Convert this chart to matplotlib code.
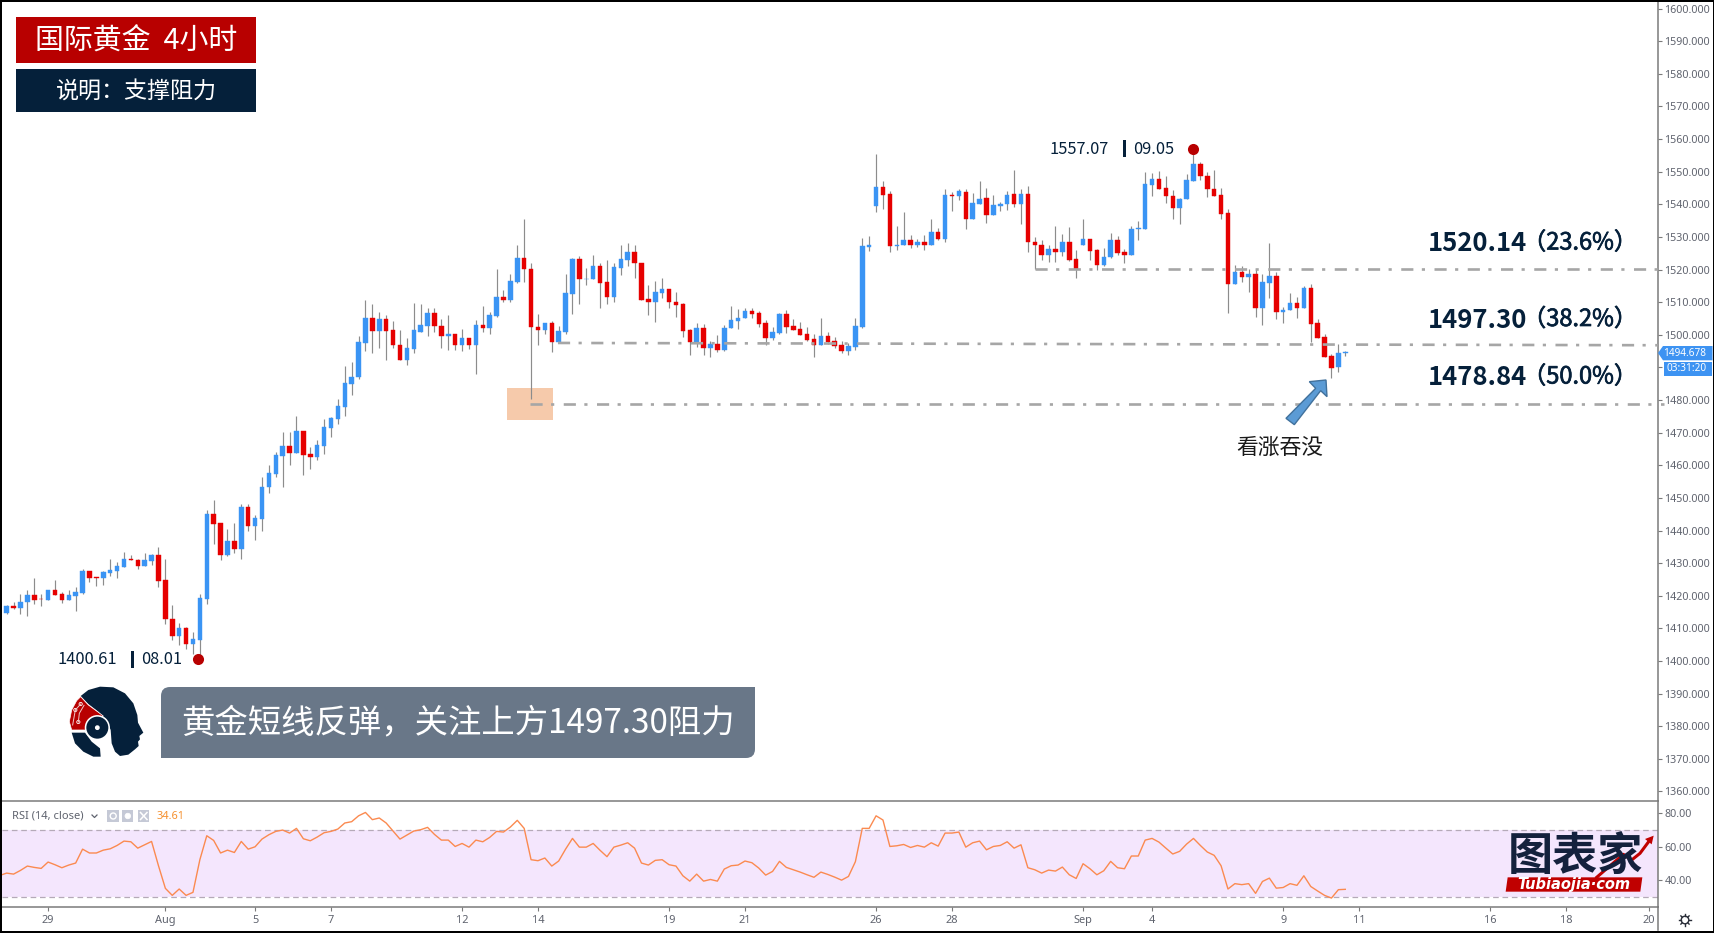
import numpy as np
import matplotlib
matplotlib.use("Agg")
import matplotlib.pyplot as plt
import matplotlib.patheffects as pe
from matplotlib.patches import Rectangle, Polygon, Circle, PathPatch
from matplotlib.path import Path

plt.rcParams['font.family'] = ['Noto Sans CJK SC', 'DejaVu Sans']

opens = [
 1414.8,1417.0,1416.1,1418.0,1420.2,1419.1,1418.8,1421.8,1420.4,1418.8,
 1419.9,1420.7,1427.5,1425.7,1425.4,1427.0,1427.5,1428.9,1431.3,1431.1,
 1429.1,1430.8,1432.5,1424.9,1413.0,1407.6,1410.1,1405.2,1406.3,1419.1,
 1445.2,1442.3,1432.4,1436.9,1434.4,1447.2,1441.3,1443.6,1453.2,1457.3,
 1462.8,1465.9,1463.8,1470.6,1463.5,1462.5,1466.0,1471.4,1474.2,1478.0,
 1484.8,1487.0,1497.6,1505.3,1501.2,1504.7,1501.4,1497.0,1492.4,1495.7,
 1501.0,1502.8,1506.6,1502.7,1499.7,1500.3,1496.9,1498.9,1496.9,1503.0,
 1502.0,1505.8,1511.5,1510.7,1516.2,1523.4,1520.3,1502.5,1501.5,1503.6,
 1497.9,1500.9,1512.6,1523.2,1517.0,1517.0,1521.0,1516.1,1511.6,1520.6,
 1523.0,1525.5,1522.1,1510.9,1510.0,1512.9,1513.9,1510.2,1509.4,1501.4,
 1497.9,1502.2,1496.0,1497.3,1495.2,1502.0,1504.2,1505.0,1507.4,1506.6,
 1503.6,1499.0,1500.6,1506.3,1502.7,1501.7,1500.1,1498.7,1496.9,1499.5,
 1498.2,1496.8,1495.0,1496.4,1502.5,1526.9,1539.6,1545.3,1543.2,1527.1,
 1527.4,1529.2,1527.4,1528.6,1527.6,1531.4,1529.5,1542.9,1542.6,1543.9,
 1535.6,1540.2,1541.8,1536.6,1539.6,1540.0,1543.1,1540.0,1543.1,1528.6,
 1527.5,1524.6,1526.2,1525.5,1528.4,1523.2,1527.6,1529.5,1526.0,1521.3,
 1523.7,1529.2,1525.5,1524.4,1532.3,1532.4,1546.0,1547.8,1545.0,1542.6,
 1538.8,1541.6,1547.3,1552.4,1548.8,1544.7,1542.9,1537.2,1515.6,1519.1,
 1517.8,1518.6,1508.2,1515.9,1518.0,1507.0,1507.5,1509.9,1508.2,1514.2,
 1503.5,1499.2,1493.4,1490.0,1494.5]
closes = [
 1416.9,1416.1,1418.2,1420.2,1418.8,1418.9,1421.8,1420.2,1418.8,1420.2,
 1421.0,1427.5,1425.4,1425.4,1427.3,1427.8,1429.1,1431.4,1430.9,1429.1,
 1431.1,1432.5,1424.6,1412.8,1407.6,1410.1,1405.2,1406.6,1419.3,1445.2,
 1442.0,1432.5,1436.9,1434.4,1447.2,1441.3,1443.9,1453.4,1457.5,1463.0,
 1465.9,1463.8,1470.5,1463.3,1462.5,1466.2,1471.8,1474.4,1478.2,1485.1,
 1487.2,1497.8,1505.3,1501.2,1504.7,1501.2,1496.9,1492.4,1495.9,1501.4,
 1503.0,1506.6,1502.6,1499.7,1500.3,1496.9,1498.9,1496.9,1502.9,1502.0,
 1506.0,1511.5,1510.7,1516.4,1523.4,1520.1,1502.3,1501.5,1503.6,1497.9,
 1501.1,1512.8,1523.2,1517.0,1517.2,1521.0,1516.0,1511.6,1520.7,1523.1,
 1525.5,1522.0,1510.8,1510.0,1513.1,1513.9,1510.0,1509.1,1501.2,1497.9,
 1502.2,1496.0,1497.3,1495.2,1502.2,1504.4,1505.2,1507.4,1506.3,1503.3,
 1499.0,1500.8,1506.3,1502.5,1501.4,1499.9,1498.4,1496.9,1499.5,1497.9,
 1496.5,1495.0,1496.5,1502.7,1527.1,1527.6,1545.3,1542.9,1527.1,1527.6,
 1529.2,1527.4,1528.6,1527.6,1531.4,1529.5,1542.9,1542.6,1544.0,1535.6,
 1540.4,1541.7,1536.6,1539.9,1540.1,1543.0,1540.0,1543.1,1528.4,1527.5,
 1524.6,1526.2,1525.5,1528.4,1523.0,1520.3,1529.5,1525.8,1521.3,1524.0,
 1529.2,1525.1,1524.4,1532.5,1532.7,1546.1,1547.8,1544.8,1542.4,1538.8,
 1541.7,1547.5,1552.4,1548.6,1544.6,1542.7,1536.9,1515.6,1519.1,1517.8,
 1518.6,1508.2,1516.1,1518.0,1507.0,1507.6,1509.9,1508.2,1514.2,1503.3,
 1499.0,1493.3,1489.9,1494.3,1494.7]
highs = [
 1417.3,1418.1,1420.4,1421.8,1425.4,1420.4,1421.8,1424.8,1421.0,1421.8,
 1422.6,1428.3,1427.6,1425.7,1427.5,1431.4,1430.3,1433.4,1432.5,1431.4,
 1433.2,1432.8,1434.9,1431.4,1417.2,1411.5,1410.3,1408.8,1420.4,1446.3,
 1449.4,1442.3,1440.6,1442.3,1448.2,1448.2,1444.9,1456.4,1460.0,1464.1,
 1470.1,1470.1,1475.2,1470.6,1465.7,1467.7,1474.2,1474.7,1480.2,1490.5,
 1491.6,1499.6,1510.7,1509.3,1506.9,1506.0,1504.2,1501.4,1498.9,1509.9,
 1509.3,1508.1,1508.2,1504.8,1506.0,1500.3,1501.9,1498.9,1504.4,1508.8,
 1507.1,1520.3,1513.6,1518.6,1527.4,1535.4,1522.1,1506.3,1503.6,1504.2,
 1502.7,1518.6,1523.5,1524.2,1520.6,1524.5,1522.1,1522.9,1521.9,1527.4,
 1528.2,1527.6,1522.1,1515.4,1516.4,1517.5,1513.9,1513.1,1509.9,1501.7,
 1503.6,1503.2,1498.2,1499.8,1503.1,1508.8,1507.8,1508.2,1508.2,1507.4,
 1504.6,1502.5,1506.6,1507.6,1504.8,1503.8,1502.5,1500.3,1505.0,1500.9,
 1499.2,1498.2,1497.5,1505.3,1529.8,1530.4,1555.4,1547.0,1544.1,1533.5,
 1537.5,1530.6,1529.5,1530.6,1535.4,1532.8,1544.7,1543.9,1544.7,1544.7,
 1543.6,1547.0,1545.0,1542.9,1540.8,1544.2,1550.5,1544.7,1545.5,1530.0,
 1529.2,1527.5,1533.3,1530.9,1533.0,1526.0,1535.4,1529.5,1526.2,1526.5,
 1531.3,1530.3,1526.2,1533.3,1535.0,1550.0,1549.7,1550.1,1548.8,1544.4,
 1542.0,1549.3,1557.1,1553.1,1549.9,1550.5,1545.0,1538.7,1521.3,1521.0,
 1520.1,1520.1,1518.6,1528.1,1519.1,1508.6,1512.9,1511.7,1515.1,1515.7,
 1504.8,1500.2,1494.1,1497.1,1495.1]
lows = [
 1414.3,1416.0,1414.5,1413.9,1417.5,1416.9,1418.8,1420.2,1417.9,1418.8,
 1415.3,1420.5,1424.3,1422.9,1423.2,1426.0,1425.4,1428.9,1430.9,1428.1,
 1429.1,1429.4,1422.6,1411.3,1406.3,1404.9,1403.6,1402.1,1400.6,1417.4,
 1436.0,1430.9,1432.2,1433.0,1431.4,1439.7,1437.1,1439.7,1451.4,1456.3,
 1453.4,1460.2,1463.8,1456.9,1459.0,1461.5,1463.5,1468.8,1472.8,1475.1,
 1481.6,1486.4,1495.1,1494.4,1496.0,1492.2,1496.0,1492.4,1490.6,1494.5,
 1500.8,1499.7,1500.9,1496.0,1495.2,1495.4,1495.0,1495.8,1487.9,1500.9,
 1500.1,1505.6,1510.1,1510.2,1515.8,1516.2,1480.3,1496.9,1500.3,1494.7,
 1497.6,1500.1,1506.3,1509.4,1515.3,1517.0,1508.2,1509.4,1510.2,1518.3,
 1521.1,1517.3,1510.8,1506.1,1504.0,1511.3,1508.2,1505.6,1499.3,1493.9,
 1496.3,1493.9,1493.3,1494.8,1495.0,1502.0,1501.7,1505.0,1505.2,1502.4,
 1496.9,1498.4,1500.3,1500.6,1501.4,1499.9,1498.2,1493.1,1496.9,1497.1,
 1495.9,1494.4,1493.8,1495.2,1502.1,1525.7,1537.7,1538.5,1525.5,1526.0,
 1527.4,1526.5,1527.0,1526.0,1527.6,1529.0,1528.6,1537.8,1541.3,1532.3,
 1535.4,1540.2,1534.2,1536.6,1537.9,1538.2,1539.1,1534.1,1525.5,1520.3,
 1522.9,1522.4,1522.3,1524.3,1522.5,1517.3,1527.6,1522.9,1519.8,1521.1,
 1523.5,1524.6,1521.9,1524.4,1529.2,1532.4,1542.6,1544.6,1540.3,1535.6,
 1534.1,1541.6,1547.3,1547.6,1542.1,1542.7,1535.4,1506.7,1515.6,1516.1,
 1513.1,1505.6,1503.1,1511.2,1504.8,1503.5,1507.5,1505.0,1508.2,1497.8,
 1499.0,1493.3,1486.7,1488.5,1493.4]
# RSI: first value belongs to the bar just left of the first complete candle
rsi = [42.9,
 44.3,43.7,45.9,48.5,47.7,47.1,50.9,49.3,47.5,49.1,
 50.3,58.6,56.3,56.3,58.0,58.8,60.8,63.4,63.0,59.2,
 61.2,63.2,48.7,35.2,31.0,34.8,31.0,32.8,52.3,66.6,
 63.8,56.3,58.0,56.6,63.2,58.6,60.0,64.6,67.2,69.2,
 70.0,68.2,71.0,64.8,63.6,65.8,68.4,69.2,70.6,74.2,
 75.0,78.5,80.5,76.2,77.2,74.2,69.4,64.6,67.0,69.4,
 70.2,71.6,67.4,64.0,64.0,60.2,62.0,59.8,64.0,63.0,
 65.6,69.2,68.8,71.8,75.8,71.0,52.3,51.7,53.3,48.5,
 51.5,58.6,65.0,59.8,59.8,62.0,57.9,54.1,59.8,61.0,
 62.4,59.2,50.3,49.1,51.9,52.3,49.3,48.5,42.7,39.5,
 43.7,39.5,40.5,39.5,46.7,48.7,49.1,51.5,50.5,47.3,
 43.1,45.3,51.3,47.7,46.3,44.9,43.3,41.8,44.9,43.5,
 41.9,40.1,42.3,51.1,71.0,71.0,78.5,76.0,60.2,60.6,
 61.4,59.6,60.8,59.8,62.4,60.4,68.2,68.2,68.8,59.8,
 62.4,63.4,58.2,60.2,60.8,63.0,59.2,61.2,47.5,46.3,
 44.3,46.1,45.5,47.9,43.3,41.1,49.9,46.9,43.3,45.7,
 51.3,47.5,46.9,54.5,54.5,64.0,65.0,62.8,59.2,55.7,
 57.3,61.6,65.0,60.8,56.9,54.9,48.7,34.8,38.0,37.4,
 38.0,32.2,39.3,41.3,35.3,35.7,38.0,37.0,42.7,36.3,
 33.6,31.0,29.4,34.4,34.61]

date_idx = [6, 23, 36, 47, 66, 77, 96, 107, 126, 137, 156, 166, 185, 196, 215, 226, 238]
date_labels = ['29', 'Aug', '5', '7', '12', '14', '19', '21', '26', '28', 'Sep', '4', '9', '11', '16', '18', '20']
price_ticks = list(range(1360, 1601, 10))
rsi_ticks = [40, 60, 80]
rsi_band = [30, 70]

level_20_start, level_20_price = 149, 1520.14
level_38_start, level_38_prices = 79.9, [1497.5, 1496.8]
level_50_start, level_50_price = 75.8, 1478.84
swing_x = [27.8, 171.9]
swing_y = [1400.61, 1557.07]

W, H = 1715, 933
PX0, PXS = 6.67, 6.9     # centre of first candle and candle spacing, in px
Y1600, PPY = 8.6, 3.262  # pixel row of 1600 and pixels per price unit
C_NAVY = '#05203a'
C_RED = '#b80000'
C_BLUE = '#3a94f4'
C_DOWN = '#e60000'
C_AXIS = '#7a7a7a'
C_TXT = '#5f636e'
C_LEVEL = '#a6a6a6'
TICK_FONT = ['Noto Sans', 'DejaVu Sans']

def axbox(l, t, r, b):
    return [l / W, (H - b) / H, (r - l) / W, (b - t) / H]

fig = plt.figure(figsize=(W / 100, H / 100), dpi=100, facecolor='white')
ax = fig.add_axes(axbox(2, 2, 1658, 801))
ar = fig.add_axes(axbox(2, 801, 1658, 907))
xl = ((2 - PX0) / PXS, (1658 - PX0) / PXS)

# ---------- price pane ----------
x = np.arange(len(opens))
o, h, l, c = map(np.array, (opens, highs, lows, closes))
up = c >= o
ax.vlines(x, l, h, color='#8c8c8c', lw=0.85, zorder=2)
ax.bar(x, np.abs(c - o), bottom=np.minimum(o, c), width=0.65,
       color=np.where(up, C_BLUE, C_DOWN), edgecolor=np.where(up, C_BLUE, C_DOWN),
       linewidth=0.3, zorder=3)
ax.set_xlim(*xl)
ax.set_ylim(1600 - (801 - Y1600) / PPY, 1600 + (Y1600 - 2) / PPY)
ax.set_xticks([])
ax.yaxis.tick_right()
ax.set_yticks(price_ticks)
ax.set_yticklabels([f'{p:.3f}' for p in price_ticks], fontsize=7.7, color=C_TXT, family=TICK_FONT)
ax.tick_params(axis='y', length=3, width=0.8, color=C_AXIS, pad=1.6)
for s in ('top', 'left', 'bottom'):
    ax.spines[s].set_visible(False)
ax.spines['right'].set_color(C_AXIS)
ax.spines['right'].set_linewidth(1.1)

dash = (0, (4.6, 3.2, 1.2, 3.6))
kw = dict(color=C_LEVEL, lw=1.9, ls=dash, zorder=4, clip_on=False)
ax.plot([level_20_start, 240.2], [level_20_price] * 2, **kw)
ax.plot([level_38_start, 239.3], level_38_prices, **kw)
ax.plot([level_50_start, 240.2], [level_50_price] * 2, **kw)
ax.plot(swing_x, swing_y, 'o', color=C_RED, ms=8, mew=0, zorder=5)

# ---------- RSI pane ----------
ar.axhspan(rsi_band[0], rsi_band[1], color='#f4e6fd', lw=0, zorder=1)
for v in rsi_band:
    ar.axhline(v, color='#b5aab8', lw=0.9, ls=(0, (4.5, 3)), zorder=2)
ar.plot(np.arange(len(rsi)) - 1, rsi, color='#fb8a50', lw=1.0, zorder=3)
ar.set_xlim(*xl)
ar.set_ylim(40 - 26.7 / 1.675, 80 + 12.3 / 1.675)
ar.yaxis.tick_right()
ar.set_yticks(rsi_ticks)
ar.set_yticklabels([f'{v:.2f}' for v in rsi_ticks], fontsize=7.7, color=C_TXT, family=TICK_FONT)
ar.set_xticks(date_idx)
ar.set_xticklabels(date_labels, fontsize=7.9, color=C_TXT, family=TICK_FONT)
ar.tick_params(axis='y', length=3, width=0.8, color=C_AXIS, pad=1.6)
ar.tick_params(axis='x', length=3, width=0.8, color=C_AXIS, pad=3)
ar.spines['left'].set_visible(False)
for s in ('top', 'bottom', 'right'):
    ar.spines[s].set_color(C_AXIS)
    ar.spines[s].set_linewidth(1.1)

# ---------- pixel-space overlay ----------
d = fig.add_axes([0, 0, 1, 1], facecolor='none', zorder=10)
d.set_xlim(0, W)
d.set_ylim(H, 0)
d.axis('off')

# highlight box goes behind the candles in the price pane
ax.add_patch(Rectangle(((507 - PX0) / PXS, 1600 - (420 - Y1600) / PPY), 46 / PXS, 32 / PPY,
                       facecolor='#f6caab', edgecolor='none', zorder=1))

def txt(px, py, s, size, color=C_NAVY, ha='center', **k):
    return d.text(px, py, s, fontsize=size, color=color, ha=ha, va='center_baseline', **k)

# frame
for r in [(0, 0, 2, H), (0, 0, W, 2), (W - 2, 0, 2, H), (0, 930.5, W, 3)]:
    d.add_patch(Rectangle(r[:2], r[2], r[3], facecolor='black', edgecolor='none'))
d.plot([1658, 1658], [907, 930], color=C_AXIS, lw=1.1)

# header boxes
d.add_patch(Rectangle((16, 17), 240, 46, facecolor=C_RED, edgecolor='none'))
d.add_patch(Rectangle((16, 69), 240, 43, facecolor=C_NAVY, edgecolor='none'))
txt(136, 38.5, '国际黄金  4小时', 20.8, 'white')
txt(136, 89, '说明：支撑阻力', 16.6, 'white')

# swing labels
txt(58, 658, '1400.61', 11.8, ha='left')
d.add_patch(Rectangle((131.5, 651), 3, 17, facecolor=C_NAVY, edgecolor='none'))
txt(141, 658, '08.01', 11.8, ha='left')
txt(1050, 148, '1557.07', 11.8, ha='left')
d.add_patch(Rectangle((1123.5, 140), 3, 17, facecolor=C_NAVY, edgecolor='none'))
txt(1133, 148, '09.05', 11.8, ha='left')

# level labels
for py, a, b in [(240.5, '1520.14', '（23.6%）'), (317, '1497.30', '（38.2%）'), (374.5, '1478.84', '（50.0%）')]:
    txt(1428, py, a, 18.5, ha='left', fontweight='bold')
    t = txt(1580, py, b, 17)
    t.set_path_effects([pe.withStroke(linewidth=0.5, foreground=C_NAVY)])

# arrow + pattern label
arrow = [(258, 655), (347, 565), (328, 545), (378, 540), (381, 590), (362, 572), (283, 674)]
d.add_patch(Polygon([(1200 + a / 3, 200 + b / 3) for a, b in arrow], closed=True,
                    facecolor='#5b9bd5', edgecolor='#41719c', lw=1, zorder=6))
txt(1280, 445, '看涨吞没', 15.7, '#1a1a1a')

# current price tags
d.add_patch(Polygon([(1658, 353), (1663, 346), (1712.5, 346), (1712.5, 360.3), (1663, 360.3)],
                    closed=True, facecolor='#3d93f2', edgecolor='none'))
d.add_patch(Rectangle((1664, 361.7), 48.5, 14.3, facecolor='#3d93f2', edgecolor='none'))
d.text(1685, 353, '1494.678', fontsize=7.2, color='white', ha='center', va='center',
       fontweight='bold', family=TICK_FONT)
d.text(1686.5, 368.7, '03:31:20', fontsize=7.2, color='white', ha='center', va='center',
       fontweight='bold', family=TICK_FONT)

# comment box (top-left and bottom-right corners rounded)
L, T, R, B, rr = 161, 687, 755, 758, 9
verts = [(L, B), (L, T + rr), (L, T), (L + rr, T), (R, T), (R, B - rr), (R, B), (R - rr, B), (L, B), (L, B)]
codes = [Path.MOVETO, Path.LINETO, Path.CURVE3, Path.CURVE3, Path.LINETO, Path.LINETO,
         Path.CURVE3, Path.CURVE3, Path.LINETO, Path.CLOSEPOLY]
d.add_patch(PathPatch(Path(verts, codes), facecolor='#697788', edgecolor='none'))
txt(457.5, 719, '黄金短线反弹，关注上方1497.30阻力', 24, 'white')

# head logo
def lp(pts):
    return [(60 + a / 3, 680 + b / 3) for a, b in pts]
head = [(62, 48), (85, 30), (120, 20), (160, 22), (195, 40), (220, 70), (232, 105), (234, 128),
        (250, 158), (238, 168), (240, 178), (234, 185), (236, 198), (225, 208), (205, 224),
        (180, 228), (165, 215), (155, 190), (152, 150), (140, 120), (115, 95), (85, 72)]
red = [(62, 50), (85, 75), (115, 97), (130, 108), (100, 115), (85, 135), (80, 150), (35, 150),
       (28, 125), (35, 90), (50, 62)]
low = [(35, 158), (75, 158), (95, 185), (120, 205), (122, 230), (100, 230), (70, 215), (45, 190)]
cx, cy = 60 + 112 / 3, 680 + 143 / 3
d.add_patch(Polygon(lp(head), closed=True, facecolor=C_NAVY, edgecolor='none'))
d.add_patch(Polygon(lp(red), closed=True, facecolor=C_RED, edgecolor='white', lw=0.5))
d.add_patch(Polygon(lp(low), closed=True, facecolor=C_NAVY, edgecolor='none'))
d.add_patch(Circle((cx, cy), 12.6, facecolor='white', edgecolor='none'))
d.add_patch(Circle((cx, cy), 11, facecolor=C_NAVY, edgecolor='none'))
d.add_patch(Circle((cx, cy), 2.4, facecolor='white', edgecolor='none'))
for seg in ([(38, 135), (46, 90)], [(55, 126), (58, 100), (72, 76)], [(46, 90), (62, 72)]):
    xs, ys = zip(*lp(seg))
    d.plot(xs, ys, color='#f0c8c8', lw=0.7)
for pt in [(46, 90), (55, 126), (62, 72)]:
    (a, b), = lp([pt])
    d.add_patch(Circle((a, b), 1.6, facecolor=C_RED, edgecolor='white', lw=0.6))

# RSI header
d.text(12.5, 816.5, 'RSI (14, close)', fontsize=8, color=C_TXT, ha='left', va='center', family=TICK_FONT)
d.plot([92, 94.5, 97], [815, 817.5, 815], color=C_TXT, lw=0.9)
for xb in (107.5, 122, 138):
    d.add_patch(Rectangle((xb, 810), 11.5, 12, facecolor='#c5c9d6', edgecolor='none'))
d.add_patch(Circle((113.2, 816), 3, facecolor='none', edgecolor='white', lw=1))
d.add_patch(Circle((127.8, 816), 2.8, facecolor='white', edgecolor='white', lw=0.5))
d.plot([140.5, 147], [812.5, 819.5], color='white', lw=1.1)
d.plot([140.5, 147], [819.5, 812.5], color='white', lw=1.1)
d.text(157, 816.5, '34.61', fontsize=7.9, color='#f5902f', ha='left', va='center',
       fontweight='bold', family=TICK_FONT)

# gear
gx, gy = 1685, 920
d.add_patch(Circle((gx, gy), 3.8, facecolor='none', edgecolor='#2a2e39', lw=1))
for ang in np.deg2rad(np.arange(0, 360, 45)):
    d.plot([gx + 3.8 * np.cos(ang), gx + 5.8 * np.cos(ang)],
           [gy + 3.8 * np.sin(ang), gy + 5.8 * np.sin(ang)], color='#2a2e39', lw=1)

# watermark
txt(1575, 853, '图表家', 32.5, '#14213d', fontweight='bold')
def wp(pts):
    return [(1495 + a / 3, 825 + b / 3) for a, b in pts]
d.add_patch(Polygon(wp([(38, 157), (442, 157), (436, 200), (32, 200)]), closed=True,
                    facecolor='#c00000', edgecolor='none'))
d.text(1574, 884, 'Tubiaojia·com', fontsize=10.5, color='white', ha='center', va='center',
       fontweight='bold', style='italic', family='DejaVu Sans')
xs, ys = zip(*wp([(305, 157), (385, 88), (410, 105), (435, 85), (464, 46)]))
d.plot(xs, ys, color='#c00000', lw=2.2)
d.add_patch(Polygon(wp([(476, 32), (470, 58), (450, 42)]), closed=True, facecolor='#c00000', edgecolor='none'))

fig.savefig('out.png', dpi=100)
